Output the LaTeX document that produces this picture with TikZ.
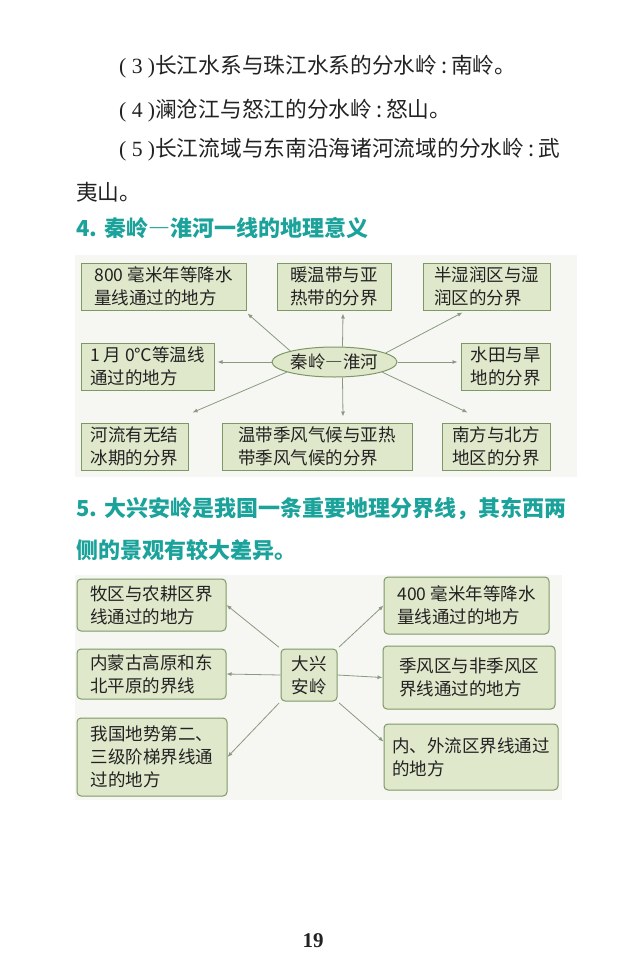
\documentclass[tikz,border=0pt]{standalone}
\usepackage{fontspec}
\newfontfamily\cjk{Noto Sans CJK SC}
\newfontfamily\numfont{Liberation Serif}
\usetikzlibrary{shapes.geometric, arrows.meta, calc}
\definecolor{boxfill}{HTML}{E0E8CB}
\definecolor{boxline}{HTML}{7D9866}
\definecolor{arrowgray}{HTML}{8A9A80}
\definecolor{headteal}{HTML}{1BA39B}
\definecolor{panelbg}{HTML}{F6F6F3}
\definecolor{bodytext}{HTML}{222222}
% numbered item, colon and full-width dash
\newcommand{\itemno}[1]{{\numfont\makebox[36pt][s]{(\hfil #1\hfil)}}}
\newcommand{\wcolon}{\makebox[14pt]{:}}
\newcommand{\wdash}{{\addfontfeatures{RawFeature=+fwid}—}}

\begin{document}
\begin{tikzpicture}[x=1pt, y=-1pt,
    body/.style={anchor=west, inner sep=0pt, text=bodytext, font=\cjk\fontsize{21.7}{26}\selectfont},
    head/.style={anchor=west, inner sep=0pt, text=headteal, align=left, font=\cjk\bfseries\fontsize{22}{42}\selectfont},
    box/.style={draw=boxline, fill=boxfill, line width=1pt, align=left, inner sep=0pt, text=bodytext, font=\cjk\fontsize{17.5}{23}\selectfont},
    rbox/.style={box, rounded corners=4pt},
    arr/.style={draw=arrowgray, line width=0.8pt, -{Latex[length=5pt, width=4pt]}}]
    \useasboundingbox (0,0) rectangle (640,974);
    \fill[white] (0,0) rectangle (640,974);

    % Text lines
    \node[body] (l3) at (119,67) {\itemno{3}长江水系与珠江水系的分水岭\wcolon 南岭。};
    \node[body] (l4) at (119,111) {\itemno{4}澜沧江与怒江的分水岭\wcolon 怒山。};
    \node[body] (l5) at (119,150) {\itemno{5}长江流域与东南沿海诸河流域的分水岭\wcolon 武};
    \node[body] (l5b) at (76,192) {夷山。};
    \node[head] (h4) at (76,228) {4. 秦岭\wdash 淮河一线的地理意义};

    % Diagram 1
    \fill[panelbg] (75,255) rectangle (577,477);
    \node[ellipse, draw=boxline, fill=boxfill, line width=1pt, inner sep=0pt, minimum width=125pt, minimum height=30pt, text=bodytext, font=\cjk\fontsize{17.5}{23}\selectfont] (qh) at (334.5,362) {秦岭\wdash 淮河};
    \node[box, minimum width=165pt, minimum height=47pt] (w800) at (163.5,286.5) {800 毫米年等降水\\量线通过的地方};
    \node[box, minimum width=114pt, minimum height=47pt] (warm) at (334,286.5) {暖温带与亚\\热带的分界};
    \node[box, minimum width=127pt, minimum height=47pt] (humid) at (486.5,286.5) {半湿润区与湿\\润区的分界};
    \node[box, minimum width=133pt, minimum height=47pt] (jan0) at (147.5,366.5) {1 月 0℃等温线\\通过的地方};
    \node[box, minimum width=89pt, minimum height=47pt] (paddy) at (505.5,366.5) {水田与旱\\地的分界};
    \node[box, minimum width=107pt, minimum height=47pt] (ice) at (134.5,446.5) {河流有无结\\冰期的分界};
    \node[box, minimum width=190pt, minimum height=47pt] (climate) at (317,446.5) {温带季风气候与亚热\\带季风气候的分界};
    \node[box, minimum width=108pt, minimum height=47pt] (southnorth) at (496,446.5) {南方与北方\\地区的分界};

    % Arrows of diagram 1
    \draw[arr] (qh.166) -- ($(w800.south east)+(1,3)$);
    \draw[arr] ($(qh.north)+(8,0)$) -- ($(warm.south)+(9,3)$);
    \draw[arr] (qh.10) -- ($(humid.south west)+(40,2)$);
    \draw[arr, shorten >=3pt] (qh.west) -- (qh.west -| jan0.east);
    \draw[arr, shorten >=3pt] (qh.east) -- (qh.east -| paddy.west);
    \draw[arr] (qh.192) -- ($(ice.north east)+(4,-10)$);
    \draw[arr] ($(qh.south)+(8,0)$) -- ($(climate.north)+(26,-6)$);
    \draw[arr] (qh.-12) -- ($(southnorth.north west)+(26,-10)$);

    \node[head] (h5) at (76,529) {5. 大兴安岭是我国一条重要地理分界线，其东西两\\侧的景观有较大差异。};

    % Diagram 2
    \fill[panelbg] (75,575) rectangle (562,800);
    \node[rbox, minimum width=56pt, minimum height=52pt] (dxal) at (309,675) {大兴\\安岭};
    \node[rbox, minimum width=149pt, minimum height=52pt] (pasture) at (151.5,605) {牧区与农耕区界\\线通过的地方};
    \node[rbox, minimum width=149pt, minimum height=50pt] (plateau) at (151.5,674) {内蒙古高原和东\\北平原的界线};
    \node[rbox, minimum width=150pt, minimum height=78pt] (terrain) at (152,757) {我国地势第二、\\三级阶梯界线通\\过的地方};
    \node[rbox, minimum width=165pt, minimum height=57pt] (w400) at (466.5,605.5) {400 毫米年等降水\\量线通过的地方};
    \node[rbox, minimum width=172pt, minimum height=63pt] (monsoon) at (469,677.5) {季风区与非季风区\\界线通过的地方};
    \node[rbox, minimum width=174pt, minimum height=66pt] (drainage) at (471,757) {内、外流区界线通过\\的地方};

    % Arrows of diagram 2
    \draw[arr, shorten <=2pt] (dxal.north west) -- (pasture.east);
    \draw[arr] (dxal.west) -- (plateau.east);
    \draw[arr, shorten <=2pt] (dxal.south west) -- (terrain.east);
    \draw[arr, shorten <=2pt] (dxal.north east) -- (w400.west);
    \draw[arr] (dxal.east) -- (monsoon.west);
    \draw[arr, shorten <=2pt] (dxal.south east) -- (drainage.170);

    \node[inner sep=0pt, text=bodytext, font=\numfont\bfseries\fontsize{21}{24}\selectfont] (pagenum) at (313,941) {19};
\end{tikzpicture}
\end{document}
